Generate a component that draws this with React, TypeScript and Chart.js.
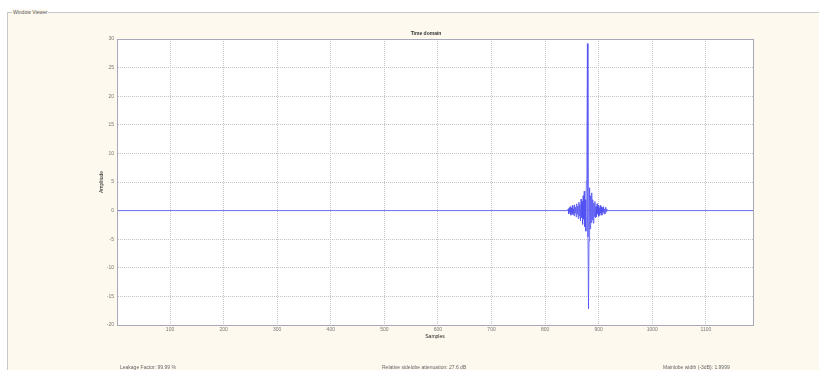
import React, { useEffect, useRef } from "react";
import { Chart, registerables } from "chart.js";

Chart.register(...registerables);

// ---- data ----
const xMin = 1;
const xMax = 1188;
const burstStart = 843;
const burstValues = [
  0.3, -0.6, 0.5, -0.3, 0.7, -0.8, 0.4, -0.5, 0.9, -0.7,
  0.3, -0.9, 1.0, -0.4, 0.6, -1.1, 1.2, -0.6, 0.8, -1.4,
  1.5, -0.9, 1.1, -1.8, 2.0, -1.2, 1.6, -2.4, 2.6, -1.5,
  3.4, -2.8, 1.9, -3.6, 5.2, 10.3, 29.2, -4.6, -17.2, -5.3,
  4.0, -3.2, 2.6, -2.1, 3.1, -1.6, 1.9, -2.2, 1.3, -1.0,
  1.6, -1.3, 0.7, -1.1, 1.2, -0.6, 0.9, -1.0, 0.5, -0.8,
  0.9, -0.4, 0.6, -0.8, 0.5, -0.3, 0.7, -0.6, 0.3, -0.5,
  0.6, -0.2, 0.3,
];
const quietBefore = [xMin, burstStart - 1];
const quietAfter = [burstStart + burstValues.length, xMax];
const xTicks = [100, 200, 300, 400, 500, 600, 700, 800, 900, 1000, 1100];
const yTicks = [-20, -15, -10, -5, 0, 5, 10, 15, 20, 25, 30];

const chartTitle = "Time domain";
const xTitle = "Samples";
const yTitle = "Amplitude";
const statusTexts = [
  "Leakage Factor: 99.99 %",
  "Relative sidelobe attenuation: 27.6 dB",
  "Mainlobe width (-3dB): 1.9999",
];

const FONT = "'Liberation Sans', Arial, sans-serif";

const plotFrame = {
  id: "plotFrame",
  beforeDraw(chart: any) {
    const { ctx, chartArea: a } = chart;
    ctx.save();
    ctx.fillStyle = "#ffffff";
    ctx.fillRect(a.left, a.top, a.right - a.left, a.bottom - a.top);
    ctx.restore();
  },
  afterDraw(chart: any) {
    const { ctx, chartArea: a } = chart;
    ctx.save();
    ctx.strokeStyle = "#a8a8b8";
    ctx.lineWidth = 1;
    ctx.strokeRect(
      Math.round(a.left) + 0.5,
      Math.round(a.top) + 0.5,
      Math.round(a.right - a.left),
      Math.round(a.bottom - a.top)
    );
    ctx.restore();
  },
};

export default function App() {
  const canvasRef = useRef<HTMLCanvasElement | null>(null);

  useEffect(() => {
    if (!canvasRef.current) return;
    const points: { x: number; y: number }[] = [];
    quietBefore.forEach((x) => points.push({ x, y: 0 }));
    burstValues.forEach((v, i) => points.push({ x: burstStart + i, y: v }));
    quietAfter.forEach((x) => points.push({ x, y: 0 }));

    const chart = new Chart(canvasRef.current, {
      type: "line",
      data: {
        datasets: [
          {
            data: points,
            borderColor: "#5050f2",
            borderWidth: 0.8,
            pointRadius: 0,
            tension: 0,
            fill: false,
          },
        ],
      },
      options: {
        animation: false,
        responsive: false,
        maintainAspectRatio: false,
        parsing: false as any,
        layout: { padding: { left: 99, right: 66, top: 31, bottom: 30 } },
        plugins: {
          legend: { display: false },
          tooltip: { enabled: false },
          title: {
            display: true,
            text: chartTitle,
            color: "#333",
            font: { family: FONT, size: 5 },
            padding: { top: 0, bottom: 2 },
          },
        },
        scales: {
          x: {
            type: "linear",
            min: xMin,
            max: xMax,
            afterFit: (s: any) => {
              s.height = 15;
            },
            afterBuildTicks: (s: any) => {
              s.ticks = xTicks.map((v) => ({ value: v }));
            },
            grid: { color: "#c4c4c4", drawTicks: false, lineWidth: 1 },
            border: { display: true, color: "#a8a8b8", dash: [1, 1] },
            ticks: {
              color: "#777",
              font: { family: FONT, size: 5 },
              padding: 2,
              maxRotation: 0,
              autoSkip: false,
              callback: (v: any) => String(v),
            },
            title: {
              display: true,
              text: xTitle,
              color: "#222",
              font: { family: FONT, size: 5 },
              padding: 0,
            },
          },
          y: {
            type: "linear",
            min: -20,
            max: 30,
            afterFit: (s: any) => {
              s.width = 18;
            },
            afterBuildTicks: (s: any) => {
              s.ticks = yTicks.map((v) => ({ value: v }));
            },
            grid: { color: "#c4c4c4", drawTicks: false, lineWidth: 1 },
            border: { display: true, color: "#a8a8b8", dash: [1, 1] },
            ticks: {
              color: "#777",
              font: { family: FONT, size: 5 },
              padding: 3,
              autoSkip: false,
              callback: (v: any) => String(v),
            },
            title: {
              display: true,
              text: yTitle,
              color: "#222",
              font: { family: FONT, size: 5 },
              padding: 0,
            },
          },
        },
      },
      plugins: [plotFrame],
    } as any);
    return () => chart.destroy();
  }, []);

  return (
    <div
      style={{
        position: "fixed",
        left: 0,
        top: 0,
        width: 819,
        height: 370,
        background: "#ffffff",
        overflow: "hidden",
        fontFamily: FONT,
      }}
    >
      <div
        style={{
          position: "absolute",
          left: 7,
          top: 12,
          width: 830,
          height: 380,
          background: "#fdf9ee",
          borderLeft: "1px solid #c8c8c8",
          borderTop: "1px solid #c8c8c8",
        }}
      />
      <div
        style={{
          position: "absolute",
          left: 12,
          top: 9,
          padding: "0 1px",
          fontSize: 5,
          lineHeight: "6px",
          color: "#555",
          background: "#fdf9ee",
          whiteSpace: "nowrap",
        }}
      >
        Window Viewer
      </div>
      <canvas
        ref={canvasRef}
        width={819}
        height={370}
        style={{ position: "absolute", left: 0, top: 0, width: 819, height: 370 }}
      />
      {statusTexts.map((t, i) => (
        <div
          key={i}
          style={{
            position: "absolute",
            left: [120, 382, 663][i],
            top: 364,
            fontSize: 5,
            lineHeight: "6px",
            color: "#666",
            whiteSpace: "nowrap",
          }}
        >
          {t}
        </div>
      ))}
    </div>
  );
}
